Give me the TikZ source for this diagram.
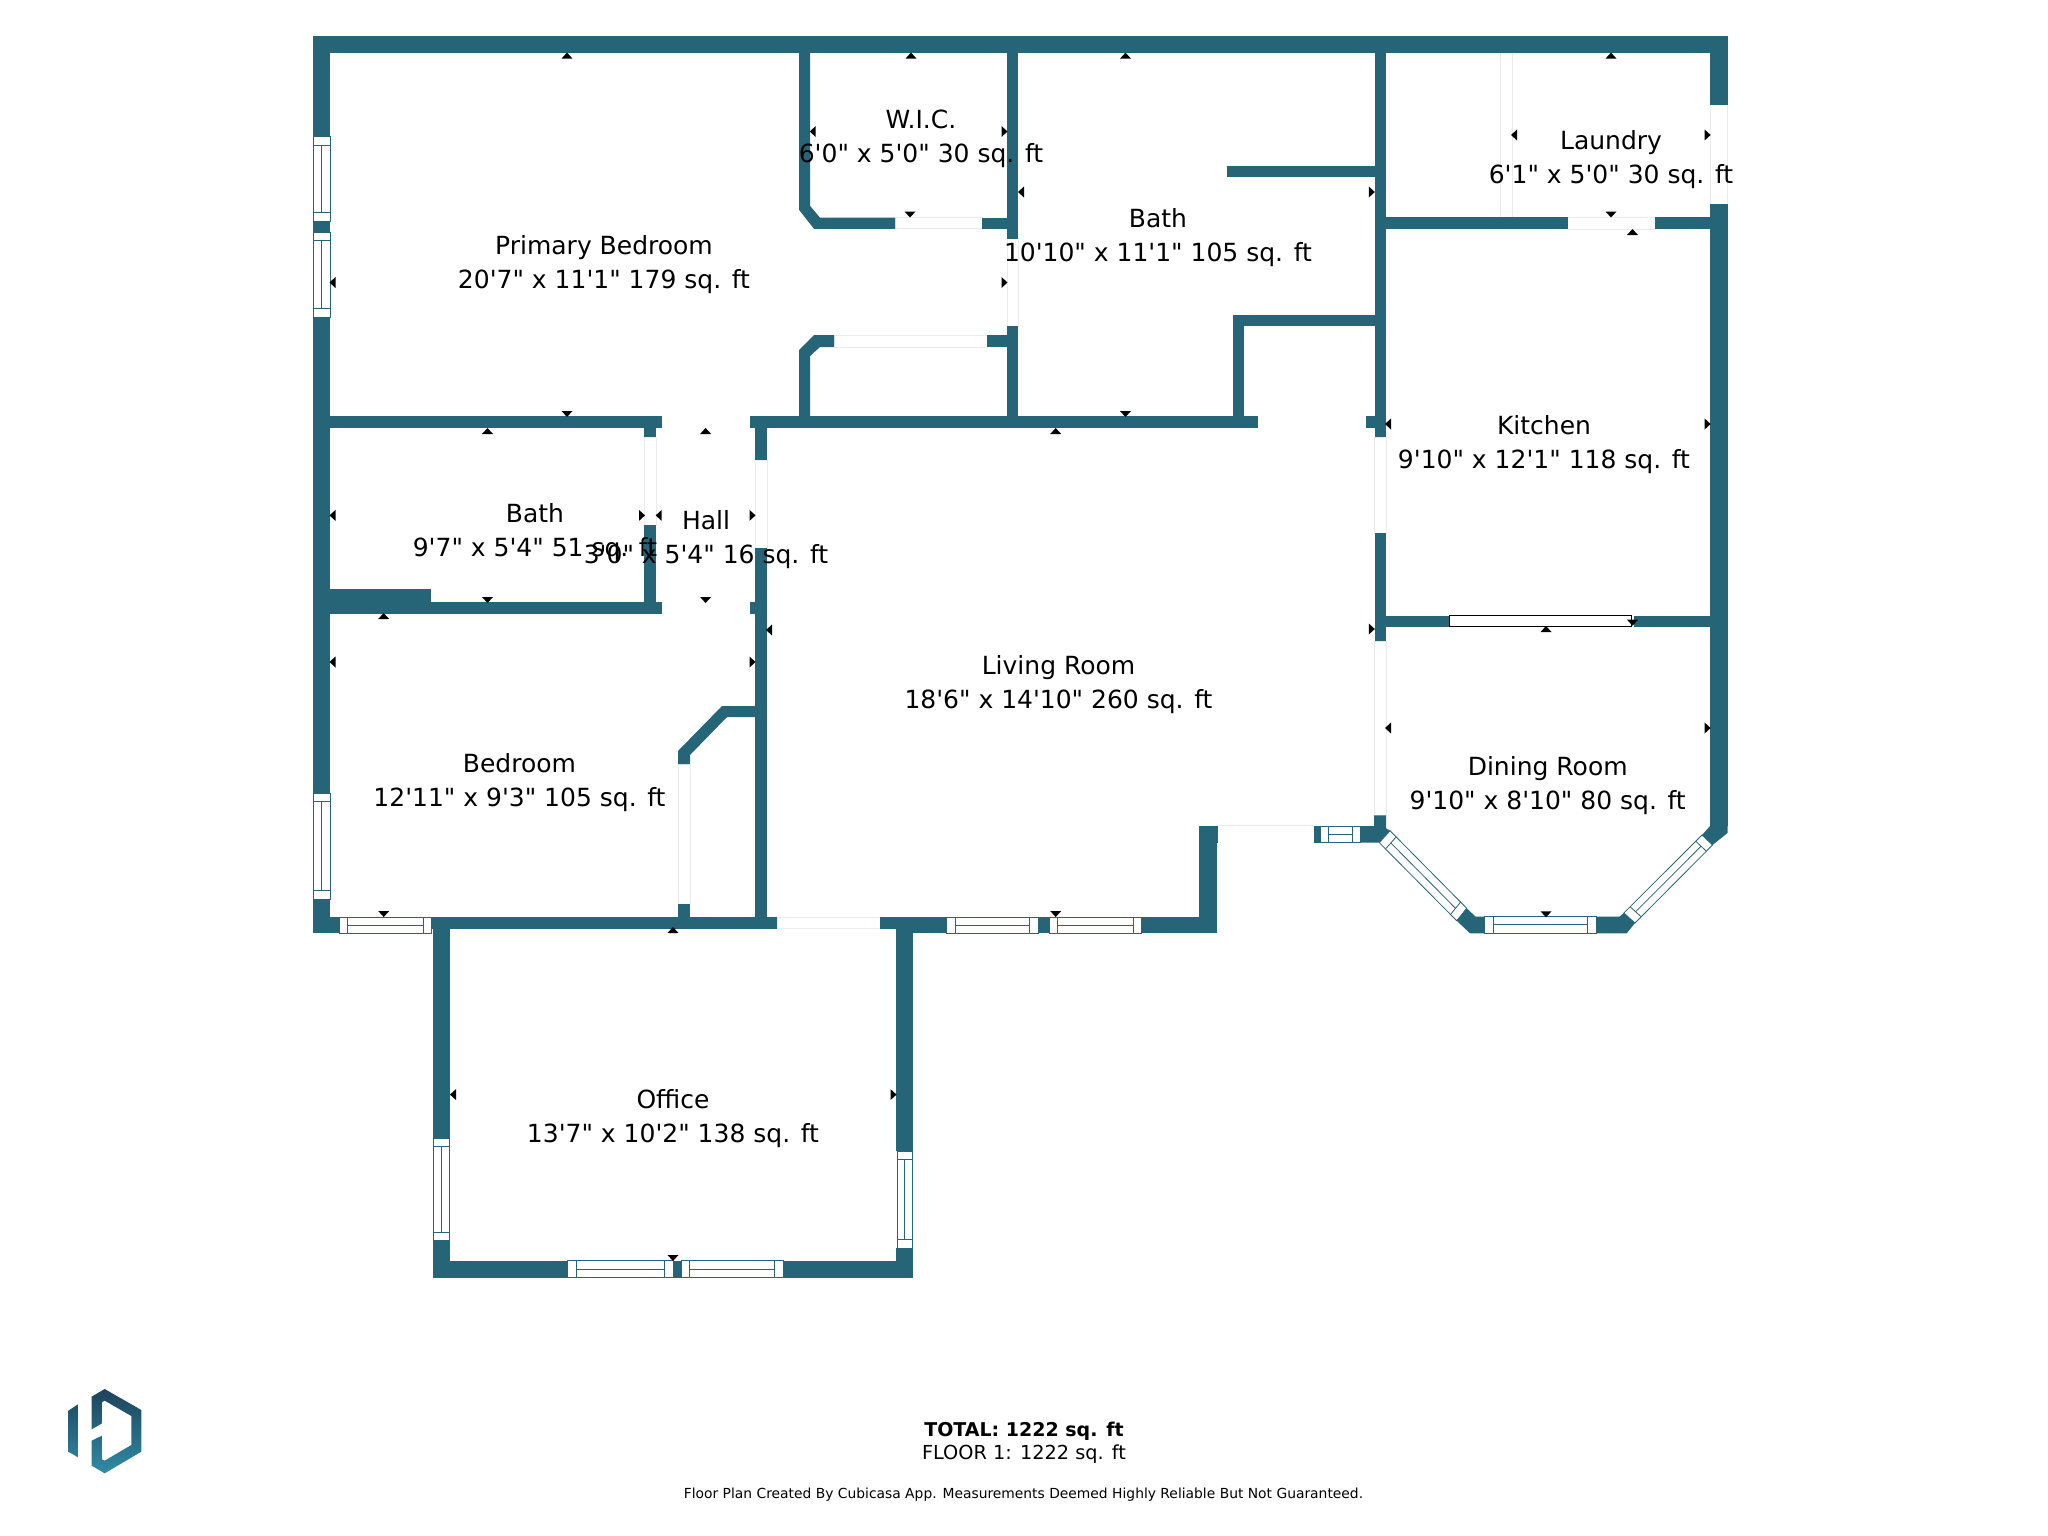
\documentclass[tikz,border=0pt]{standalone}
\usepackage{fontspec}
\usetikzlibrary{calc}
\newfontfamily\planfont{DejaVu Sans}
\definecolor{wallc}{RGB}{38,100,120}
\definecolor{doorc}{RGB}{232,236,238}
\definecolor{logotop}{RGB}{30,66,90}
\definecolor{logobot}{RGB}{48,140,165}
\tikzset{
  wallfill/.style={fill=wallc,draw=none},
  winline/.style={draw=wallc,line width=0.8pt},
  doorline/.style={draw=doorc,line width=0.8pt,fill=white},
  roomlabel/.style={font=\planfont\fontsize{25}{34}\selectfont,align=center,inner sep=0pt,text=black},
  marker/.style={fill=black,draw=none},
}
% wall rectangle
\newcommand\planwall[4]{\fill[wallfill] (#1,#2) rectangle (#3,#4);}
% door opening
\newcommand\plandoor[4]{\path[doorline] (#1,#2) rectangle (#3,#4);}
% window from four corners: A-B long edge, D-C long edge, cap fraction
\newcommand\planwin[5]{%
  \path[winline,fill=white] #1 -- #2 -- #3 -- #4 -- cycle;
  \draw[winline] ($#1!#5!#2$) -- ($#4!#5!#3$);
  \draw[winline] ($#1!1-#5!#2$) -- ($#4!1-#5!#3$);
  \draw[winline] ($($#1!#5!#2$)!.5!($#4!#5!#3$)$) -- ($($#1!1-#5!#2$)!.5!($#4!1-#5!#3$)$);
}
\newcommand\winH[5]{\planwin{(#1,#2)}{(#3,#2)}{(#3,#4)}{(#1,#4)}{#5}}
\newcommand\winV[5]{\planwin{(#1,#2)}{(#1,#4)}{(#3,#4)}{(#3,#2)}{#5}}
% dimension markers
\newcommand\tU[2]{\fill[marker] (#1-5.5,#2+3) -- (#1+5.5,#2+3) -- (#1,#2-3) -- cycle;}
\newcommand\tD[2]{\fill[marker] (#1-5.5,#2-3) -- (#1+5.5,#2-3) -- (#1,#2+3) -- cycle;}
\newcommand\tL[2]{\fill[marker] (#1+3,#2-5.5) -- (#1+3,#2+5.5) -- (#1-3,#2) -- cycle;}
\newcommand\tR[2]{\fill[marker] (#1-3,#2-5.5) -- (#1-3,#2+5.5) -- (#1+3,#2) -- cycle;}
\begin{document}
\begin{tikzpicture}[x=1pt,y=-1pt]
\useasboundingbox[fill=white] (0,0) rectangle (2048,1536);

% ---------- doors (light outlines)
\plandoor{1007}{238.7}{1018}{326.4}
\plandoor{895}{217.7}{982}{228.8}
\plandoor{834}{335}{987}{347}
\plandoor{644}{437}{656}{525}
\plandoor{755}{460}{767}{548}
\plandoor{678}{764}{690}{904}
\plandoor{777}{917}{880}{928.5}
\plandoor{1374.7}{437}{1386.3}{533}
\plandoor{1374.7}{641}{1386.3}{815.3}
\plandoor{1710}{104.6}{1727.5}{204}
\plandoor{1567.6}{217}{1655}{229}
\draw[doorc,line width=0.8pt] (1218,825.7) -- (1314,825.7);
\draw[doorc,line width=0.8pt] (1500,53) -- (1500,217);
\draw[doorc,line width=0.8pt] (1512,53) -- (1512,217);

% ---------- outer walls
\planwall{313}{36}{1727.5}{53}
\planwall{313}{53}{330}{136.6}
\planwall{313}{220.9}{330}{232.3}
\planwall{313}{317.3}{330}{793}
\planwall{313}{899}{330}{933}
\planwall{330}{917}{339.5}{933}
\planwall{1710}{53}{1727.5}{104.6}
\planwall{1710}{204}{1727.5}{826}
\fill[wallfill] (1702,835) -- (1710,826) -- (1710,800) -- (1727.5,800) -- (1727.5,833) -- (1712.5,845) -- cycle;

% ---------- W.I.C. and closet
\fill[wallfill] (799,53) -- (810,53) -- (810,205.8) -- (820,217.7) -- (895,217.7) -- (895,228.8) -- (814,228.8) -- (799,209.8) -- cycle;
\planwall{982}{217.7}{1007}{228.8}
\planwall{1007}{53}{1018}{238.7}
\planwall{1007}{326.4}{1018}{416}
\fill[wallfill] (799,416) -- (799,350) -- (814,335) -- (834,335) -- (834,347) -- (820,347) -- (810,356) -- (810,416) -- cycle;
\planwall{987}{335}{1007}{347}

% ---------- central horizontal wall
\planwall{330}{416}{662}{428}
\planwall{749.5}{416}{1258}{428}

% ---------- lower bath and hall
\planwall{644}{428}{656}{437}
\planwall{644}{525}{656}{614}
\planwall{330}{602}{662}{614}
\planwall{330}{588.6}{431}{602}
\planwall{755}{428}{767}{460}
\planwall{755}{548}{767}{917}
\planwall{750}{602}{755}{614}

% ---------- bedroom closet
\fill[wallfill] (678,764) -- (678,751) -- (722,706) -- (755,706) -- (755,717) -- (727,717) -- (690,755) -- (690,764) -- cycle;
\planwall{678}{904}{690}{917}

% ---------- bedroom / living bottom wall
\planwall{431.5}{917}{777}{928.5}
\planwall{880}{917}{946.7}{928.5}
\planwall{913}{917}{946.7}{933}
\planwall{1038}{917}{1049}{933}
\planwall{1141.5}{917}{1216.7}{933}
\planwall{1199}{843}{1216.7}{917}
\planwall{1199}{825.7}{1218}{843}

% ---------- office
\planwall{432.5}{917}{450}{1138}
\planwall{432.5}{1240.6}{450}{1278}
\planwall{432.5}{1260.5}{567.5}{1278}
\planwall{673}{1260.5}{681}{1278}
\planwall{783.5}{1260.5}{913}{1278}
\planwall{896}{928}{913}{1151}
\planwall{896}{1248}{913}{1278}

% ---------- upper bath bumps
\planwall{1227}{165.5}{1375}{177.4}
\planwall{1232.6}{314.6}{1375}{326.4}
\planwall{1232.6}{326}{1244.3}{416}

% ---------- main vertical wall
\planwall{1374.7}{53}{1386.3}{437}
\planwall{1374.7}{533}{1386.3}{641}
\planwall{1366}{416}{1375}{428}

% ---------- kitchen / laundry walls
\planwall{1386}{217}{1567.6}{229}
\planwall{1655}{217}{1710}{229}
\planwall{1386}{615.5}{1449.3}{626.7}
\planwall{1634}{615.5}{1710}{626.7}

% ---------- bay wedges
\fill[wallfill] (1314,826) rectangle (1320.5,842.7);
\fill[wallfill] (1360,826) -- (1374,826) -- (1374,815.3) -- (1386,815.3) -- (1386,828.3) -- (1390,830.7) -- (1379.3,842.7) -- (1360,842.7) -- cycle;
\fill[wallfill] (1456.7,920.7) -- (1470,933.3) -- (1484.7,933.3) -- (1484.7,916.7) -- (1475.7,916.7) -- (1466.7,908.3) -- cycle;
\fill[wallfill] (1596,916.7) -- (1619.4,916.7) -- (1623.8,913) -- (1635,923) -- (1626.7,933.3) -- (1596,933.3) -- cycle;

% ---------- windows
\winV{313}{136.6}{330}{220.9}{.1}
\winV{313}{232.3}{330}{317.3}{.1}
\winV{313}{793}{330}{899}{.08}
\winH{339}{917}{431.5}{933}{.09}
\winV{433}{1138}{449.5}{1240.6}{.08}
\winV{897}{1151}{912.5}{1248}{.085}
\winH{567.5}{1260.5}{673}{1277.5}{.085}
\winH{681}{1260.5}{783.5}{1277.5}{.085}
\winH{946.7}{917}{1038}{933}{.09}
\winH{1049}{917}{1141.5}{933}{.09}
\winH{1320.5}{826}{1360}{842.7}{.2}
\winH{1484.7}{916.7}{1596}{933}{.075}
\planwin{(1379.3,842.7)}{(1456.7,920.7)}{(1466.7,908.3)}{(1390,830.7)}{.08}
\planwin{(1635,923)}{(1712.5,845)}{(1702,835)}{(1623.8,913)}{.08}
\path[draw=black,line width=1.2pt,fill=white] (1449.3,615.7) rectangle (1631.7,626.7);

% ---------- dimension markers
\tU{567}{55.6}\tU{911}{55.6}\tU{1125.5}{55.6}\tU{1611}{55.6}
\tD{567}{414}\tD{910}{214.5}\tD{487.5}{600}\tD{705.6}{600}\tD{1125.5}{414}\tD{1611}{214.5}
\tU{487.5}{431}\tU{705.6}{431}\tU{383.7}{616}\tU{1055.7}{431}\tU{1632.5}{232}
\tL{332.5}{282.5}\tL{812.7}{131.5}\tL{1021}{192}\tL{332.5}{515.4}\tL{658.7}{515.4}\tL{769}{630}\tL{1514}{135}\tL{1388}{424}
\tR{1004.5}{131.5}\tR{1004.5}{282.5}\tR{642}{515.4}\tR{752.5}{515.4}\tR{1371.8}{192}\tR{1707.6}{135}\tR{1707.6}{424}
\tL{332.5}{662}\tR{752.5}{662}\tL{453}{1094.6}\tR{893.5}{1094.6}
\tU{673}{930}\tD{383.7}{914}\tD{673}{1258}
\tR{1371.8}{629}\tL{1388}{728}\tR{1707.6}{728}\tU{1546}{629}\tD{1632.5}{622.7}\tD{1055.7}{914}\tD{1546}{914.3}

% ---------- room labels
\node[roomlabel] (primary) at (604,264.6) {Primary Bedroom\\20'7" x 11'1" 179 sq. ft};
\node[roomlabel] (wic) at (921,139) {W.I.C.\\6'0" x 5'0" 30 sq. ft};
\node[roomlabel] (bathup) at (1158,237.6) {Bath\\10'10" x 11'1" 105 sq. ft};
\node[roomlabel] (laundry) at (1611,159.3) {Laundry\\6'1" x 5'0" 30 sq. ft};
\node[roomlabel] (kitchen) at (1544,445) {Kitchen\\9'10" x 12'1" 118 sq. ft};
\node[roomlabel] (bathlow) at (535,532.6) {Bath\\9'7" x 5'4" 51 sq. ft};
\node[roomlabel] (hall) at (706,539.6) {Hall\\3'0" x 5'4" 16 sq. ft};
\node[roomlabel] (bedroom) at (519.5,782.6) {Bedroom\\12'11" x 9'3" 105 sq. ft};
\node[roomlabel] (office) at (673,1118.6) {Office\\13'7" x 10'2" 138 sq. ft};
\node[roomlabel] (living) at (1058.5,685) {Living Room\\18'6" x 14'10" 260 sq. ft};
\node[roomlabel] (dining) at (1547.7,785.6) {Dining Room\\9'10" x 8'10" 80 sq. ft};

% ---------- footer
\node[inner sep=0pt,font=\planfont\bfseries\fontsize{19}{23}\selectfont] (total) at (1024,1431) {TOTAL: 1222 sq. ft};
\node[inner sep=0pt,font=\planfont\fontsize{19.3}{23}\selectfont] (floor) at (1024,1454) {FLOOR 1: 1222 sq. ft};
\node[inner sep=0pt,font=\planfont\fontsize{13.85}{17}\selectfont] (credit) at (1023.5,1495) {Floor Plan Created By Cubicasa App. Measurements Deemed Highly Reliable But Not Guaranteed.};

% ---------- logo
\begin{scope}[shift={(40,1370)},x=0.3333pt,y=-0.3333pt]
\shade[top color=logotop,bottom color=logobot]
  (85,122) -- (114,103) -- (114,262) -- (85,245) -- cycle
  (155,80) -- (194,57) -- (304,120) -- (304,245) -- (194,310) -- (155,287) -- (155,212) -- (186,197) -- (186,268) -- (194,272) -- (274,225) -- (274,138) -- (194,92) -- (186,97) -- (186,160) -- (155,178) -- cycle;
\end{scope}
\end{tikzpicture}
\end{document}
